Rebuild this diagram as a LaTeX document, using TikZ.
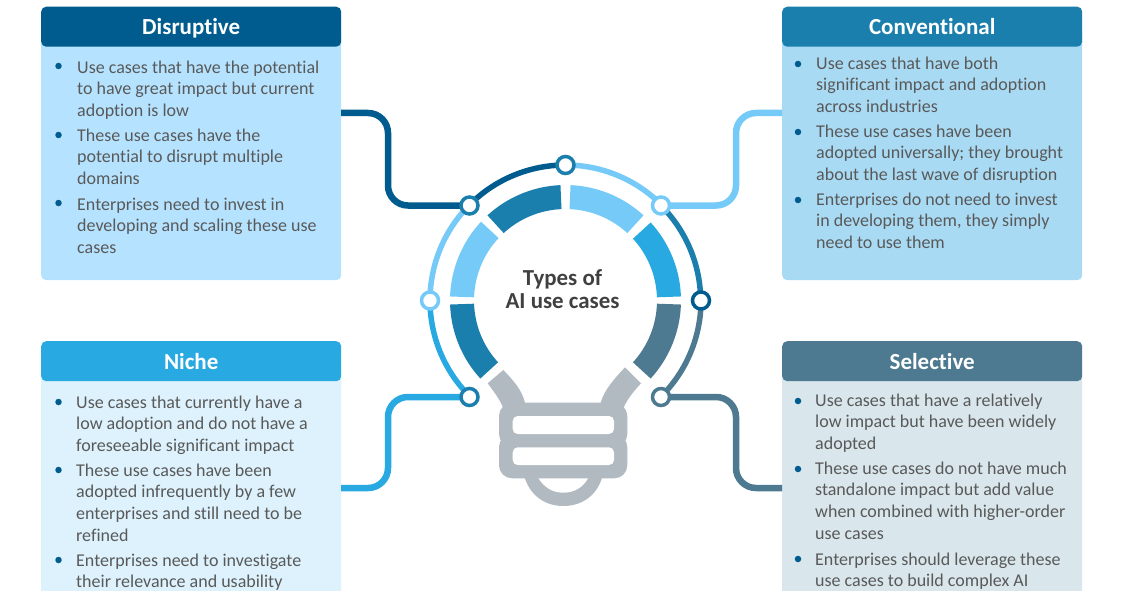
\documentclass[tikz,border=0pt]{standalone}
\usepackage{fontspec}
\setmainfont{Carlito}[Ligatures=NoCommon]
\usetikzlibrary{calc}
\usetikzlibrary{positioning}

\definecolor{disblue}{HTML}{005C8F}
\definecolor{conblue}{HTML}{1A7FAD}
\definecolor{nicblue}{HTML}{29A9E1}
\definecolor{selblue}{HTML}{4D7A90}
\definecolor{skyblue}{HTML}{75CAF8}
\definecolor{disback}{HTML}{B5E3FF}
\definecolor{conback}{HTML}{A9DAF3}
\definecolor{nicback}{HTML}{DDF2FC}
\definecolor{selback}{HTML}{D9E6EC}
\definecolor{bulbgray}{HTML}{B1BAC1}
\definecolor{bodytext}{HTML}{595959}
\definecolor{hubtext}{HTML}{404040}

\tikzset{
  panelbody/.style={rectangle, rounded corners=5pt, inner sep=0pt, minimum width=300pt, anchor=north west},
  panelhead/.style={rectangle, rounded corners=5pt, inner sep=0pt, minimum width=300pt, minimum height=40pt, anchor=north west,
    text=white, text height=17pt, text depth=1pt, font=\fontsize{23}{26}\selectfont\bfseries},
  itemtext/.style={inner sep=0pt, anchor=north west, align=left, text=bodytext, font=\fontsize{18}{21.7}\selectfont},
  itemdot/.style={circle, inner sep=0pt, minimum size=6.5pt, fill=disblue},
  ringnode/.style={circle, inner sep=0pt, minimum size=17pt, line width=3.5pt, draw=#1, fill=white},
  wire/.style={line width=6.5pt, rounded corners=20pt, color=#1},
  halo/.style={line width=5.5pt, color=#1}
}

\begin{document}
\begin{tikzpicture}[x=1pt, y=1pt]
  \path[use as bounding box, clip] (0,0) rectangle (1130,-591);
  \fill[white] (0,0) rectangle (1130,-591);

  \coordinate (hub) at (565.5,-300.5);
  \coordinate (ptop) at (565.5,-165);
  \coordinate (ptl) at (469.5,-205.5);
  \coordinate (ptr) at (661,-205.5);
  \coordinate (pleft) at (430,-300.5);
  \coordinate (pright) at (701,-300.5);
  \coordinate (pbl) at (469.5,-397);
  \coordinate (pbr) at (661,-397);

  \node[panelbody, fill=disback, minimum height=254pt] (disbody) at (41,-26) {};
  \node[panelhead, fill=disblue] (dishead) at (41,-6.5) {Disruptive};
  \node[panelbody, fill=conback, minimum height=254pt] (conbody) at (782,-26) {};
  \node[panelhead, fill=conblue] (conhead) at (782,-6.5) {Conventional};
  \node[panelbody, fill=nicback, minimum height=260pt] (nicbody) at (41,-360) {};
  \node[panelhead, fill=nicblue] (nichead) at (41,-341) {Niche};
  \node[panelbody, fill=selback, minimum height=260pt] (selbody) at (782,-360) {};
  \node[panelhead, fill=selblue] (selhead) at (782,-341) {Selective};

  \node[itemdot] (dis1) at (58.5,-66) {};
  \node[itemdot] (dis2) at (58.5,-135) {};
  \node[itemdot] (dis3) at (58.5,-203) {};
  \node[itemtext] (distext1) at (77,-60.5) {Use cases that have the potential\\to have great impact but current\\adoption is low};
  \node[itemtext] (distext2) at (77,-128.5) {These use cases have the\\potential to disrupt multiple\\domains};
  \node[itemtext] (distext3) at (77,-197.5) {Enterprises need to invest in\\developing and scaling these use\\cases};

  \node[itemdot] (con1) at (798,-64) {};
  \node[itemdot] (con2) at (798,-132) {};
  \node[itemdot] (con3) at (798,-200) {};
  \node[itemtext] (context1) at (816,-56.5) {Use cases that have both\\significant impact and adoption\\across industries};
  \node[itemtext] (context2) at (816,-124.5) {These use cases have been\\adopted universally; they brought\\about the last wave of disruption};
  \node[itemtext] (context3) at (816,-192.5) {Enterprises do not need to invest\\in developing them, they simply\\need to use them};

  \node[itemdot] (nic1) at (58.5,-402) {};
  \node[itemdot] (nic2) at (58.5,-470) {};
  \node[itemdot] (nic3) at (58.5,-560) {};
  \node[itemtext] (nictext1) at (76,-395.5) {Use cases that currently have a\\low adoption and do not have a\\foreseeable significant impact};
  \node[itemtext] (nictext2) at (76,-463.5) {These use cases have been\\adopted infrequently by a few\\enterprises and still need to be\\refined};
  \node[itemtext] (nictext3) at (76,-553.5) {Enterprises need to investigate\\their relevance and usability};

  \node[itemdot] (sel1) at (798,-401) {};
  \node[itemdot] (sel2) at (798,-469) {};
  \node[itemdot] (sel3) at (798,-559) {};
  \node[itemtext] (seltext1) at (815,-393.5) {Use cases that have a relatively\\low impact but have been widely\\adopted};
  \node[itemtext] (seltext2) at (815,-461.5) {These use cases do not have much\\standalone impact but add value\\when combined with higher-order\\use cases};
  \node[itemtext] (seltext3) at (815,-552.5) {Enterprises should leverage these\\use cases to build complex AI};

  \fill[conblue] ([shift={(92.5:115.5)}]hub) arc[start angle=92.5, end angle=132.5, radius=115.5] -- ([shift={(132.5:91.5)}]hub) arc[start angle=132.5, end angle=92.5, radius=91.5] -- cycle;
  \fill[skyblue] ([shift={(137:115.5)}]hub) arc[start angle=137, end angle=178, radius=115.5] -- ([shift={(178:91.5)}]hub) arc[start angle=178, end angle=137, radius=91.5] -- cycle;
  \fill[skyblue] ([shift={(47.5:115.5)}]hub) arc[start angle=47.5, end angle=87.5, radius=115.5] -- ([shift={(87.5:91.5)}]hub) arc[start angle=87.5, end angle=47.5, radius=91.5] -- cycle;
  \fill[nicblue] ([shift={(2:115.5)}]hub) arc[start angle=2, end angle=42.5, radius=115.5] -- ([shift={(42.5:91.5)}]hub) arc[start angle=42.5, end angle=2, radius=91.5] -- cycle;
  \fill[conblue] ([shift={(182:115.5)}]hub) arc[start angle=182, end angle=222.5, radius=115.5] -- ([shift={(222.5:91.5)}]hub) arc[start angle=222.5, end angle=182, radius=91.5] -- cycle;
  \fill[selblue] ([shift={(-2:115.5)}]hub) arc[start angle=-2, end angle=-42.5, radius=115.5] -- ([shift={(-42.5:91.5)}]hub) arc[start angle=-42.5, end angle=-2, radius=91.5] -- cycle;

  \fill[bulbgray] (503.3,-370) .. controls (513,-380) and (522,-390) .. (525,-402.7) -- (600.7,-402.7) .. controls (604,-390) and (615,-378) .. (625,-367.3) -- (641,-383.3) .. controls (634,-391) and (628,-398) .. (623.3,-408) -- (503.3,-408) .. controls (499,-398) and (494,-392) .. (487.7,-383.3) -- cycle;
  \fill[bulbgray] (523.3,-472) -- (603.3,-472) .. controls (600,-492) and (585,-506) .. (563.3,-506) .. controls (542,-506) and (527,-492) .. (523.3,-472) -- cycle;
  \fill[white] (538.3,-478) -- (588.3,-478) .. controls (583,-487) and (575,-492.7) .. (563.3,-492.7) .. controls (552,-492.7) and (544,-487) .. (538.3,-478) -- cycle;
  \fill[bulbgray, rounded corners=13pt] (499,-403) rectangle (627.3,-447);
  \fill[bulbgray, rounded corners=13pt] (499,-434) rectangle (627.3,-478.3);
  \fill[white, rounded corners=5pt] (512.7,-416) rectangle (614,-434);
  \fill[white, rounded corners=5pt] (512.7,-447.3) rectangle (614,-465);

  \draw[halo=disblue] (ptop) arc[start angle=90, end angle=135, radius=135.5];
  \draw[halo=skyblue] (ptop) arc[start angle=90, end angle=45, radius=135.5];
  \draw[halo=conblue] (ptr) arc[start angle=45, end angle=0, radius=135.5];
  \draw[halo=selblue] (pright) arc[start angle=0, end angle=-45, radius=135.5];
  \draw[halo=skyblue] (pleft) arc[start angle=180, end angle=135, radius=135.5];
  \draw[halo=nicblue] (pleft) arc[start angle=180, end angle=225, radius=135.5];

  \coordinate (disend) at (341,-113);
  \coordinate (conend) at (782,-113);
  \coordinate (nicend) at (341,-488);
  \coordinate (selend) at (782,-488);
  \draw[wire=disblue] (disend) -- (388,-113) |- (ptl);
  \draw[wire=skyblue] (conend) -- (736,-113) |- (ptr);
  \draw[wire=nicblue] (nicend) -- (388,-488) |- (pbl);
  \draw[wire=selblue] (selend) -- (736,-488) |- (pbr);

  \node[ringnode=conblue] (top) at (ptop) {};
  \node[ringnode=conblue] (tl) at (ptl) {};
  \node[ringnode=skyblue] (tr) at (ptr) {};
  \node[ringnode=skyblue] (left) at (pleft) {};
  \node[ringnode=disblue] (right) at (pright) {};
  \node[ringnode=conblue] (bl) at (pbl) {};
  \node[ringnode=selblue] (br) at (pbr) {};

  \node[align=center, inner sep=0pt, text=hubtext, font=\fontsize{22.9}{23}\selectfont\bfseries] (hubtext) at (562.5,-289) {Types of\\AI use cases};
\end{tikzpicture}
\end{document}
